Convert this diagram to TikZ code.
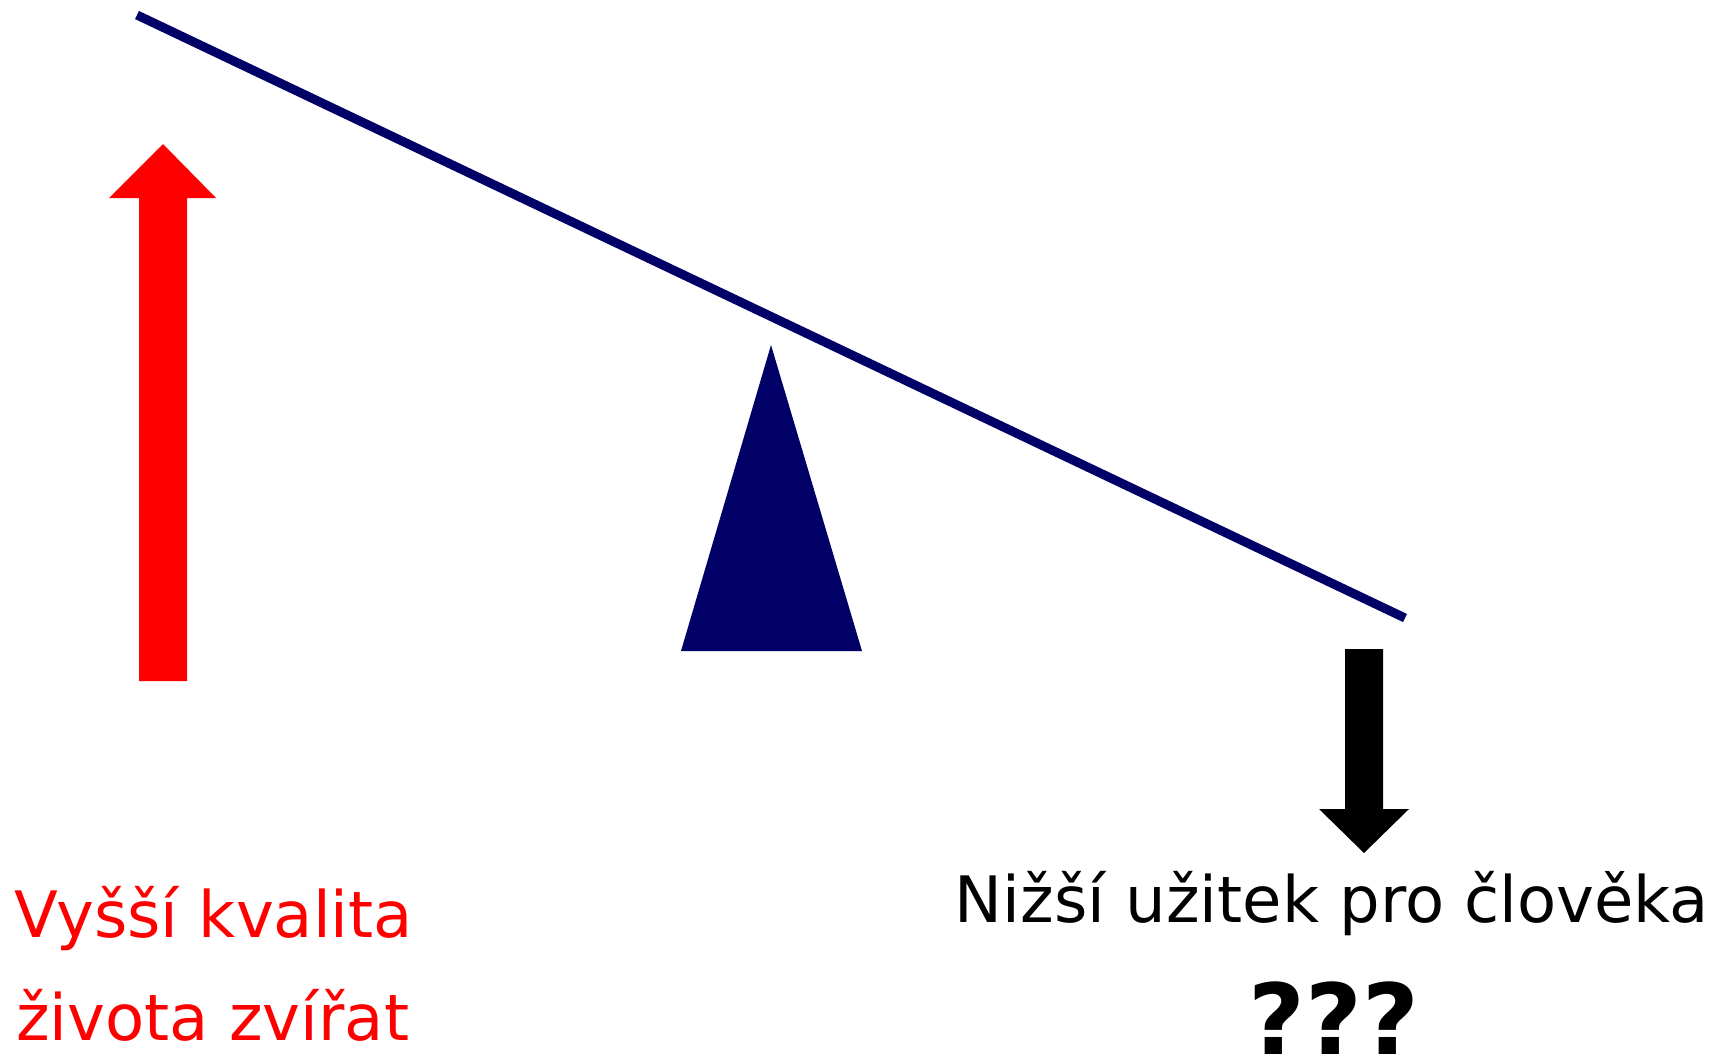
\documentclass[tikz,border=0pt]{standalone}
\usepackage{fontspec}
\setmainfont{DejaVu Sans}
\usepackage{tikz}
\usetikzlibrary{calc}

\definecolor{beamnavy}{RGB}{0,0,102}

\begin{document}
\begin{tikzpicture}[x=1pt, y=-1pt,
  label text/.style={inner sep=0pt, font=\fontsize{64}{77}\selectfont}]
  \useasboundingbox (0,0) rectangle (1725,1057);

  % Beam (navy, tilted)
  \coordinate (beamL) at (137,15);
  \coordinate (beamR) at (1405,618);
  \draw[beamnavy, line width=9pt] (beamL) -- (beamR);

  % Fulcrum triangle
  \fill[beamnavy] (771,345) -- (862,651) -- (681,651) -- cycle;

  % Red arrow up (left side)
  \fill[red] (163,144) -- (216,198) -- (187,198) -- (187,681)
    -- (139,681) -- (139,198) -- (109,198) -- cycle;

  % Black arrow down (right side)
  \fill[black] (1345,649) -- (1383,649) -- (1383,809) -- (1409,809)
    -- (1364,853) -- (1319,809) -- (1345,809) -- cycle;

  % Labels left (red)
  \node[label text, red, anchor=base west] (animal1) at (14,937) {Vyšší kvalita};
  \node[label text, red, anchor=base west] (animal2) at (16,1040) {života zvířat};

  % Labels right
  \node[label text, anchor=base] (human) at (1332,922) {Nižší užitek pro člověka};
  \node[inner sep=0pt, anchor=base, font=\fontsize{98}{110}\selectfont\bfseries]
    (quest) at (1334,1054) {???};
\end{tikzpicture}
\end{document}
